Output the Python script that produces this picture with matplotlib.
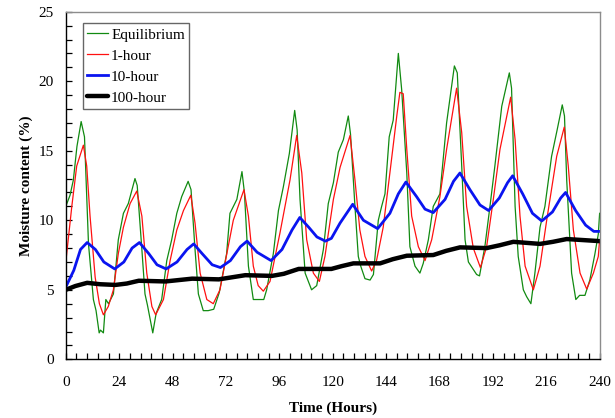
import numpy as np
import matplotlib
matplotlib.use('Agg')
import matplotlib.pyplot as plt
from matplotlib.ticker import MultipleLocator, AutoMinorLocator

plt.rcParams['font.family'] = ['Liberation Serif', 'DejaVu Serif']

# equilibrium moisture content
t_eq = [0, 1.9, 3.4, 5, 6.9, 8.4, 10.2, 12.4, 13.6, 15.0, 15.6, 16.9, 18.0, 19.2, 21.4,
        23.6, 25.9, 28.1, 31.1, 32.1, 34.2, 35.6, 36.7, 39.1, 40.6, 43.1, 45.4, 47.6,
        49.9, 52.1, 55.0, 56.3, 58.1, 59.6, 61.8, 64.0, 66.5, 69.0, 72.3, 73.8, 76.9,
        79.2, 80.3, 82.1, 84.3, 89.0, 90.3, 93.3, 95.6, 97.8, 100.5, 102.9, 104.0,
        105.3, 107.6, 110.5, 112.8, 115.8, 118.0, 120.3, 122.5, 124.8, 127.0, 128.0,
        130.0, 131.5, 132.6, 134.5, 136.8, 138.3, 140.5, 142.0, 143.5, 145.4, 147.2,
        149.5, 151.0, 153.3, 154.7, 157.0, 159.2, 160.7, 163.0, 165.2, 168.2, 171.2,
        174.7, 176.0, 178.0, 179.5, 181.0, 184.7, 186.0, 188.4, 190.7, 192.9, 196.0,
        199.4, 200.4, 202.0, 203.4, 205.7, 207.2, 209.1, 210.9, 213.2, 215.4, 218.4,
        220.9, 223.2, 224.2, 225.2, 227.4, 229.3, 231.0, 233.4, 235.6, 237.9, 239.4, 240.0]
m_eq = [11.0, 11.8, 12.9, 15.3, 17.1, 16.0, 8.3, 4.3, 3.5, 1.9, 2.1, 1.9, 4.3, 4.0, 4.7,
        8.6, 10.5, 11.2, 13.0, 12.5, 7.9, 4.7, 3.9, 1.9, 3.3, 4.3, 7.1, 8.6,
        10.5, 11.7, 12.8, 12.2, 7.9, 4.7, 3.5, 3.5, 3.6, 4.8, 7.6, 10.5, 11.5,
        13.5, 12.0, 6.7, 4.3, 4.3, 5.0, 7.6, 10.7, 12.4, 14.8, 17.9, 16.5,
        11.5, 6.2, 5.0, 5.3, 7.9, 11.2, 12.7, 14.9, 15.8, 17.5, 16.2,
        11.0, 7.4, 6.7, 5.8, 5.7, 6.1, 10.0, 11.0, 11.9, 16.0, 17.2,
        22.0, 19.4, 13.4, 8.1, 6.7, 6.2, 6.9, 8.6, 11.0, 11.9, 17.0,
        21.1, 20.6, 13.9, 8.6, 7.0, 6.1, 6.0, 8.1, 11.0, 13.9, 18.2,
        20.6, 19.5, 11.0, 7.4, 5.0, 4.5, 4.0, 6.2, 9.5, 11.0, 14.6,
        16.5, 18.3, 17.5, 12.9, 6.2, 4.3, 4.6, 4.6, 5.7, 7.6, 9.0, 10.5]

# 1-hour fuel
t_1h = [0, 2.7, 4.9, 7.9, 9.4, 10.9, 13.2, 15.1, 16.9, 19.1, 21.4, 23.6, 25.9, 28.9,
        31.9, 34.2, 36.4, 38.7, 40.4, 43.9, 46.9, 49.9, 52.9, 56.2, 58.1, 60.4, 63.4,
        66.3, 69.3, 72.4, 75.3, 80.1, 82.1, 84.3, 86.5, 88.8, 91.8, 96.3, 100.8, 103.8,
        106.1, 108.3, 111.3, 114.0, 116.5, 120.3, 123.3, 127.8, 130.0, 132.2, 134.5,
        137.5, 139.7, 142.7, 145.7, 148.8, 150.2, 151.7, 153.3, 155.5, 158.5, 161.5,
        164.5, 168.2, 171.2, 175.7, 178.0, 180.2, 183.2, 186.4, 189.2, 192.2, 195.2,
        200.0, 202.0, 204.2, 206.5, 210.2, 213.2, 216.2, 220.7, 224.1, 225.9, 228.2,
        231.2, 234.2, 237.2, 239.4, 240.0]
m_1h = [7.0, 11.0, 13.9, 15.4, 13.9, 10.3, 5.9, 4.0, 3.2, 3.8, 5.0, 7.6, 9.5, 11.2,
        12.1, 10.3, 6.2, 3.8, 3.2, 4.3, 7.1, 9.3, 10.7, 11.8, 9.8, 6.2, 4.3,
        4.0, 5.0, 7.6, 10.0, 12.2, 10.3, 6.7, 5.3, 4.9, 5.6, 9.1, 12.9, 16.1,
        13.4, 8.6, 6.2, 5.6, 7.4, 11.5, 13.8, 16.1, 12.9, 9.3, 7.4,
        6.35, 7.1, 9.5, 13.4, 17.5, 19.2, 19.1, 15.1, 10.3, 8.1, 7.1,
        8.6, 11.7, 15.1, 19.5, 16.3, 11.0, 8.0, 6.6, 8.1, 11.5, 15.1,
        18.85, 15.8, 10.3, 6.7, 5.0, 6.7, 10.0, 14.6, 16.7, 13.9, 9.3,
        6.2, 5.05, 6.2, 7.4, 8.6]

# 10-hour fuel
t_10h = [0, 3.6, 6.6, 9.6, 13.3, 17.1, 22.0, 26.1, 29.8, 33.1, 37.3, 41.0, 45.1, 50.0,
         54.5, 57.5, 61.3, 65.8, 69.5, 74.0, 78.5, 81.5, 86.0, 92.3, 97.2, 101.7, 105.2,
         109.2, 112.9, 116.7, 119.4, 123.3, 129.0, 133.8, 140.2, 145.7, 149.5, 152.9,
         157.7, 161.5, 165.2, 170.5, 174.3, 177.2, 181.7, 186.2, 190.1, 194.9, 198.6,
         200.9, 205.4, 209.8, 214.0, 218.8, 222.5, 224.7, 229.2, 233.7, 237.4, 240.0]
m_10h = [5.2, 6.4, 7.9, 8.4, 7.9, 7.0, 6.5, 7.0, 8.0, 8.4, 7.6, 6.8, 6.5, 7.0,
         7.9, 8.3, 7.6, 6.8, 6.6, 7.1, 8.1, 8.5, 7.7, 7.1, 7.9, 9.3, 10.2,
         9.5, 8.8, 8.5, 8.7, 9.8, 11.15, 10.0, 9.4, 10.5, 11.9, 12.75,
         11.7, 10.8, 10.55, 11.5, 12.8, 13.4, 12.2, 11.1, 10.7, 11.6, 12.7,
         13.2, 11.9, 10.5, 9.95, 10.6, 11.6, 12.0, 10.7, 9.65, 9.2, 9.2]

# 100-hour fuel
t_100h = [0, 4.3, 9.6, 15.4, 22.3, 27.4, 32.8, 44.8, 56.8, 68.8, 80.7, 92.7, 98, 104.7,
          119.4, 124, 129.3, 141.3, 147, 153.3, 165.2, 171, 177.2, 189.2, 195, 201.2,
          213.2, 219, 225.2, 240]
m_100h = [5.0, 5.27, 5.5, 5.4, 5.35, 5.45, 5.65, 5.6, 5.8, 5.75, 6.05, 6.0, 6.15, 6.5,
          6.5, 6.7, 6.9, 6.9, 7.2, 7.45, 7.5, 7.8, 8.05, 8.0, 8.2, 8.45,
          8.3, 8.45, 8.65, 8.5]

fig = plt.figure(figsize=(6.15, 4.18), dpi=100)
ax = fig.add_axes([0.107, 0.1404, 0.868, 0.8316])

ax.plot(t_eq, m_eq, color='#118a11', lw=0.9, label='Equilibrium')
ax.plot(t_1h, m_1h, color='#ff1010', lw=0.9, label='1-hour')
ax.plot(t_10h, m_10h, color='#0a14f0', lw=2.0, label='10-hour', solid_joinstyle='round')
ax.plot(t_100h, m_100h, color='black', lw=3.2, label='100-hour', solid_capstyle='round')

ax.set_xlim(0, 240)
ax.set_ylim(0, 25)
ax.xaxis.set_major_locator(MultipleLocator(24))
ax.xaxis.set_minor_locator(AutoMinorLocator(5))
ax.yaxis.set_major_locator(MultipleLocator(5))
ax.yaxis.set_minor_locator(MultipleLocator(1))
ax.tick_params(which='both', direction='in', length=4, width=0.9, labelsize=11,
               top=False, right=False)
ax.tick_params(axis='x', pad=12)
ax.tick_params(axis='y', pad=8.5)

for s in ['left', 'bottom']:
    ax.spines[s].set_linewidth(1.0)
for s in ['top', 'right']:
    ax.spines[s].set_color('#8c8c8c')
    ax.spines[s].set_linewidth(1.0)

ax.set_xlabel('Time (Hours)', fontsize=11, fontweight='bold', labelpad=9)
ax.set_ylabel('Moisture content (%)', fontsize=11, fontweight='bold', labelpad=4)

leg = ax.legend(loc='upper left', bbox_to_anchor=(0.0318, 0.9666), borderaxespad=0,
                fontsize=11, frameon=True, fancybox=False, edgecolor='#404040',
                handlelength=1.35, handletextpad=0.2, labelspacing=0.48,
                borderpad=0.3)
leg.get_frame().set_linewidth(1.0)

fig.savefig('out.png', dpi=100)
